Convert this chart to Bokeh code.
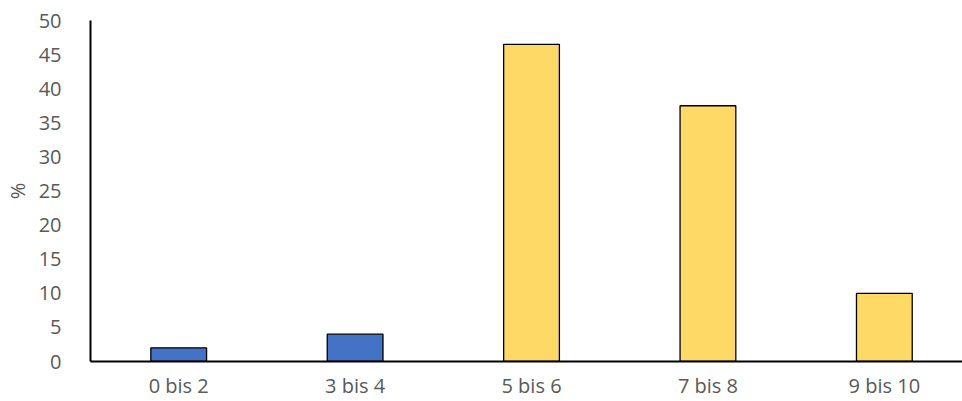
from bokeh.plotting import figure
from bokeh.models import ColumnDataSource, Range1d, FixedTicker
from bokeh.embed import file_html
from bokeh.resources import INLINE

# Share of respondents per score band (%)
categories = ["0 bis 2", "3 bis 4", "5 bis 6", "7 bis 8", "9 bis 10"]
shares = [2.0, 4.0, 46.5, 37.5, 10.0]
bar_colors = ["#4472C4", "#4472C4", "#FFD966", "#FFD966", "#FFD966"]
y_ticks = [0, 5, 10, 15, 20, 25, 30, 35, 40, 45, 50]

centers = [i + 0.5 for i in range(len(categories))]
source = ColumnDataSource(dict(x=centers, top=shares, color=bar_colors))

FONT = "Open Sans"
GREY = "#595959"
SIZE = "20px"

p = figure(
    width=962, height=401,
    x_range=Range1d(0, 4.943), y_range=Range1d(0, 50),
    output_backend="svg", toolbar_location=None,
    min_border_left=90, min_border_right=0,
    min_border_top=20, min_border_bottom=40,
)
p.outline_line_color = None
p.background_fill_color = "white"
p.border_fill_color = "white"
p.xgrid.grid_line_color = None
p.ygrid.grid_line_color = None

p.vbar(x="x", top="top", bottom=0, width=0.316, fill_color="color",
       line_color="black", line_width=1.3, source=source)

# x axis: one label per score band
p.xaxis.ticker = FixedTicker(ticks=centers)
p.xaxis.major_label_overrides = {c: lab for c, lab in zip(centers, categories)}
p.xaxis.major_tick_line_color = None
p.xaxis.minor_tick_line_color = None
p.xaxis.axis_line_color = "black"
p.xaxis.axis_line_width = 2
p.xaxis.major_label_text_font = FONT
p.xaxis.major_label_text_font_size = SIZE
p.xaxis.major_label_text_color = GREY
p.xaxis.major_label_standoff = 4

# y axis
p.yaxis.ticker = FixedTicker(ticks=y_ticks)
p.yaxis.major_tick_line_color = None
p.yaxis.minor_tick_line_color = None
p.yaxis.axis_line_color = "black"
p.yaxis.axis_line_width = 2
p.yaxis.major_label_text_font = FONT
p.yaxis.major_label_text_font_size = SIZE
p.yaxis.major_label_text_color = GREY
p.yaxis.major_label_standoff = 23
p.yaxis.axis_label = "%"
p.yaxis.axis_label_text_font = FONT
p.yaxis.axis_label_text_font_size = SIZE
p.yaxis.axis_label_text_font_style = "normal"
p.yaxis.axis_label_text_color = GREY
p.yaxis.axis_label_standoff = 5

open("out.html", "w").write(file_html(p, INLINE))
